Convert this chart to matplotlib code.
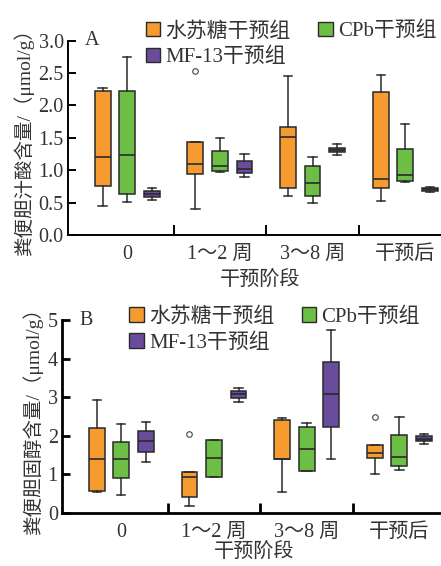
import matplotlib
matplotlib.use("Agg")
import matplotlib.pyplot as plt
from matplotlib.patches import Patch

plt.rcParams["font.family"] = ["Liberation Serif", "Noto Sans CJK SC"]
plt.rcParams["axes.unicode_minus"] = False

# ---------------- data ----------------
stages = ["0", "1～2 周", "3～8 周", "干预后"]
groups = ["水苏糖干预组", "CPb干预组", "MF-13干预组"]
colors = ["#F59B30", "#6DBE45", "#6A4C9C"]

# each entry: [whisker low, q1, median, q3, whisker high]
a_sugar = [[0.44, 0.76, 1.20, 2.22, 2.27],
           [0.40, 0.94, 1.09, 1.43, 1.43],
           [0.60, 0.72, 1.52, 1.66, 2.46],
           [0.52, 0.73, 0.86, 2.21, 2.47]]
a_cpb = [[0.51, 0.63, 1.23, 2.23, 2.75],
         [0.97, 0.98, 1.06, 1.29, 1.49],
         [0.49, 0.60, 0.80, 1.06, 1.20],
         [0.81, 0.84, 0.92, 1.32, 1.71]]
a_mf13 = [[0.54, 0.58, 0.63, 0.68, 0.73],
          [0.90, 0.96, 1.02, 1.14, 1.25],
          [1.23, 1.28, 1.31, 1.35, 1.40],
          [0.66, 0.68, 0.71, 0.73, 0.74]]
a_fliers = [[[], [2.53], [], []], [[], [], [], []], [[], [], [], []]]

b_sugar = [[0.55, 0.58, 1.40, 2.21, 2.92],
           [0.18, 0.41, 0.93, 1.07, 1.07],
           [0.55, 1.40, 1.41, 2.41, 2.46],
           [1.01, 1.42, 1.56, 1.75, 1.75]]
b_cpb = [[0.47, 0.92, 1.40, 1.84, 2.30],
         [0.93, 0.94, 1.42, 1.89, 1.90],
         [1.09, 1.10, 1.66, 2.24, 2.32],
         [1.11, 1.22, 1.45, 2.02, 2.49]]
b_mf13 = [[1.32, 1.59, 1.86, 2.12, 2.37],
          [2.88, 2.98, 3.09, 3.16, 3.23],
          [1.40, 2.23, 3.08, 3.91, 4.73],
          [1.80, 1.86, 1.93, 1.99, 2.04]]
b_fliers = [[[], [2.06], [], [2.50]], [[], [], [], []], [[], [], [], []]]

FS = 14.5
TXT = "#333333"


def draw_panel(ax, series, fliers, ylim, yticks, yfmt, ylabel, tag, spine_lw, xpad):
    offsets = [-0.265, 0.0, 0.265]
    for gi, (data, fl) in enumerate(zip(series, fliers)):
        stats = []
        for si, row in enumerate(data):
            wlo, q1, med, q3, whi = row
            stats.append(dict(whislo=wlo, q1=q1, med=med, q3=q3, whishi=whi,
                              fliers=fl[si]))
        pos = [i + offsets[gi] for i in range(len(data))]
        ax.bxp(stats, positions=pos, widths=0.17, capwidths=0.09,
               patch_artist=True, showfliers=True,
               boxprops=dict(facecolor=colors[gi], edgecolor="#2a2a2a", linewidth=1.1),
               medianprops=dict(color="#2a2a2a", linewidth=1.2),
               whiskerprops=dict(color="#2a2a2a", linewidth=1.1),
               capprops=dict(color="#2a2a2a", linewidth=1.1),
               flierprops=dict(marker="o", markersize=4, markerfacecolor="white",
                               markeredgecolor="#444444", markeredgewidth=0.8))

    ax.set_xlim(-0.64, 3.5)
    ax.set_ylim(*ylim)
    ax.set_yticks(yticks)
    ax.set_yticklabels([yfmt.format(v) for v in yticks])
    ax.set_xticks(range(len(stages)))
    ax.set_xticklabels(stages)
    ax.set_xticks([0.5, 1.5, 2.5, 3.5], minor=True)
    ax.tick_params(axis="x", which="major", length=0, pad=7, labelsize=FS, labelcolor=TXT)
    ax.tick_params(axis="x", which="minor", direction="in", length=7, width=spine_lw)
    ax.tick_params(axis="y", direction="in", length=6, width=spine_lw, pad=3,
                   labelsize=FS, labelcolor=TXT)
    for s in ["top", "right"]:
        ax.spines[s].set_visible(False)
    for s in ["left", "bottom"]:
        ax.spines[s].set_linewidth(spine_lw)
        ax.spines[s].set_color("black")

    ax.set_xlabel("干预阶段", fontsize=14.5, color=TXT, labelpad=xpad)
    ax.set_ylabel(ylabel, fontsize=14, color=TXT, labelpad=3)
    ax.text(0.045, 1.0, tag, transform=ax.transAxes, fontsize=FS, color=TXT,
            ha="left", va="center")


fig = plt.figure(figsize=(4.41, 5.66), dpi=100)

ax_a = fig.add_axes([0.154, 0.585, 0.870, 0.343])
draw_panel(ax_a, [a_sugar, a_cpb, a_mf13], a_fliers, (0, 3.0),
           [0, 0.5, 1.0, 1.5, 2.0, 2.5, 3.0], "{:.1f}",
           "粪便胆汁酸含量/（μmol/g）", "A", 1.4, 5)

ax_b = fig.add_axes([0.1406, 0.0936, 0.870, 0.341])
draw_panel(ax_b, [b_sugar, b_cpb, b_mf13], b_fliers, (0, 5),
           [0, 1, 2, 3, 4, 5], "{:.0f}",
           "粪便胆固醇含量/（μmol/g）", "B", 2.0, 1)

handles = [Patch(facecolor=colors[0], edgecolor="#2a2a2a", linewidth=1.0),
           Patch(facecolor=colors[2], edgecolor="#2a2a2a", linewidth=1.0),
           Patch(facecolor=colors[1], edgecolor="#2a2a2a", linewidth=1.0)]
labels = [groups[0], groups[2], groups[1]]
for anchor in [(0.307, 0.980), (0.270, 0.476)]:
    leg = fig.legend(handles, labels, loc="upper left", bbox_to_anchor=anchor,
                     ncol=2, frameon=False, fontsize=15, borderpad=0,
                     handlelength=0.7, handleheight=0.7, handletextpad=0.25,
                     columnspacing=1.3, labelspacing=0.3)
    for t in leg.get_texts():
        t.set_color(TXT)

fig.savefig("out.png", dpi=100)
